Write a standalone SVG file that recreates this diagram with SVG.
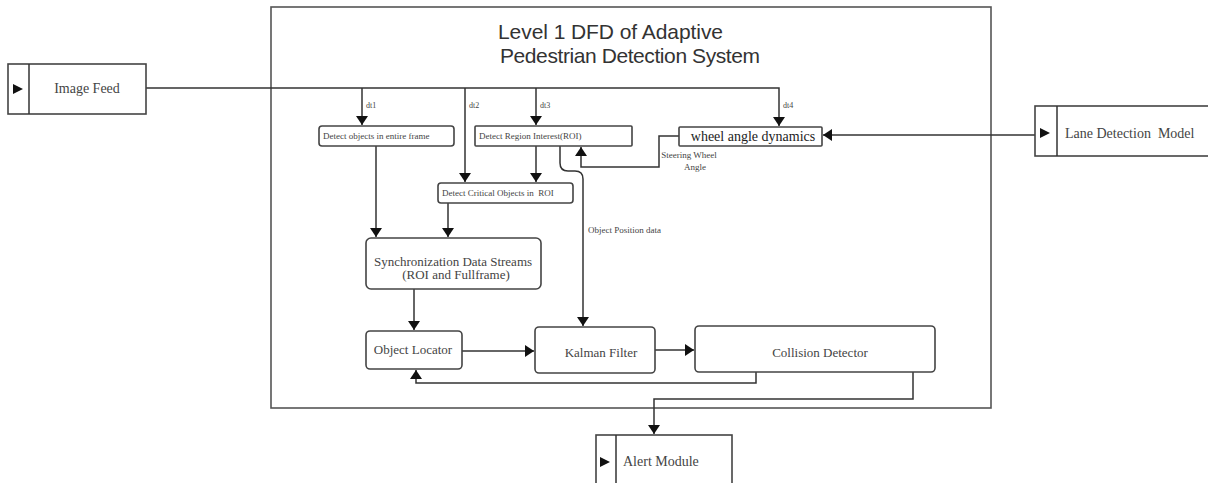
<svg xmlns="http://www.w3.org/2000/svg" width="1208" height="483" viewBox="0 0 1208 483">
<defs>
<marker id="arr" markerUnits="userSpaceOnUse" markerWidth="10" markerHeight="12" refX="9" refY="6" orient="auto">
<path d="M0,0 L9,6 L0,12 z" fill="#111"/>
</marker>
<style>
.box{fill:#fff;stroke:#444;stroke-width:1.6}
.sys{fill:none;stroke:#555;stroke-width:1.6}
.ln{fill:none;stroke:#333;stroke-width:1.5}
.ser{font-family:"Liberation Serif","Times New Roman",serif;fill:#444;white-space:pre}
.s9{font-size:9px}
.s8{font-size:8px}
.s13{font-size:13px}
.s14{font-size:14px}
.ttl{font-family:"Liberation Sans",Arial,sans-serif;font-size:21px;fill:#333}
.tri{fill:#111}
</style>
</defs>
<rect width="1208" height="483" fill="#fff"/>

<g id="system-boundary">
<rect class="sys" x="271" y="7" width="720" height="401"/>
<text class="ttl" x="498" y="39" textLength="225">Level 1 DFD of Adaptive</text>
<text class="ttl" x="500" y="63" textLength="260">Pedestrian Detection System</text>
</g>

<g id="connectors">
<path class="ln" d="M146,88 H779 V126" marker-end="url(#arr)"/>
<path class="ln" d="M362,88 V125" marker-end="url(#arr)"/>
<path class="ln" d="M465,88 V182" marker-end="url(#arr)"/>
<path class="ln" d="M536,88 V125" marker-end="url(#arr)"/>
<path class="ln" d="M536,146 V182" marker-end="url(#arr)"/>
<path class="ln" d="M376,146 V237" marker-end="url(#arr)"/>
<path class="ln" d="M448,203 V237" marker-end="url(#arr)"/>
<path class="ln" d="M414,289 V330" marker-end="url(#arr)"/>
<path class="ln" d="M462,351 H534" marker-end="url(#arr)"/>
<path class="ln" d="M655,350 H694" marker-end="url(#arr)"/>
<path class="ln" d="M756,372 V383 H416 V370" marker-end="url(#arr)"/>
<path class="ln" d="M913,372 V399 H654 V434" marker-end="url(#arr)"/>
<path class="ln" d="M1035,135 H823" marker-end="url(#arr)"/>
<path class="ln" d="M679,136 H659 V167 H581 V147" marker-end="url(#arr)"/>
<path class="ln" d="M560,146 V163 Q560,171 568,171 H575 Q583,171 583,179 V326" marker-end="url(#arr)"/>
<text class="ser s8" x="366" y="108">dt1</text>
<text class="ser s8" x="469" y="108">dt2</text>
<text class="ser s8" x="540" y="108">dt3</text>
<text class="ser s8" x="783" y="108">dt4</text>
<text class="ser s9" x="588" y="233">Object Position data</text>
<text class="ser s9" x="689" y="158" text-anchor="middle">Steering Wheel</text>
<text class="ser s9" x="695" y="170" text-anchor="middle">Angle</text>
</g>

<g id="image-feed">
<rect class="box" x="8" y="64" width="138" height="50"/>
<line class="ln" x1="29" y1="64" x2="29" y2="114"/>
<path class="tri" d="M13,84 L23,89 L13,94 z"/>
<text class="ser s14" x="87" y="93" text-anchor="middle">Image Feed</text>
</g>

<g id="lane-detection-model">
<rect class="box" x="1035" y="106" width="180" height="50"/>
<line class="ln" x1="1057" y1="106" x2="1057" y2="156"/>
<path class="tri" d="M1040,128 L1050,133 L1040,138 z"/>
<text class="ser s14" x="1065" y="138">Lane Detection  Model</text>
</g>

<g id="alert-module">
<rect class="box" x="596" y="435" width="136" height="60"/>
<line class="ln" x1="616" y1="435" x2="616" y2="495"/>
<path class="tri" d="M600,457 L610,462 L600,467 z"/>
<text class="ser s14" x="623" y="466">Alert Module</text>
</g>

<g id="detect-objects-entire-frame">
<rect class="box" x="319" y="126" width="135" height="20" rx="3"/>
<text class="ser s9" x="323" y="139">Detect objects in entire frame</text>
</g>

<g id="detect-region-interest">
<rect class="box" x="475" y="126" width="157" height="20" rx="1"/>
<text class="ser s9" x="479" y="139">Detect Region Interest(ROI)</text>
</g>

<g id="wheel-angle-dynamics">
<rect class="box" x="679" y="127" width="143" height="19" rx="1"/>
<text class="ser s14" x="753" y="141" text-anchor="middle" style="fill:#222">wheel angle dynamics</text>
</g>

<g id="detect-critical-objects">
<rect class="box" x="438" y="183" width="135" height="20" rx="3"/>
<text class="ser s9" x="442" y="196">Detect Critical Objects in  ROI</text>
</g>

<g id="synchronization">
<rect class="box" x="366" y="238" width="175" height="51" rx="5"/>
<text class="ser s13" x="453" y="266" text-anchor="middle">Synchronization Data Streams</text>
<text class="ser s13" x="456" y="279" text-anchor="middle">(ROI and Fullframe)</text>
</g>

<g id="object-locator">
<rect class="box" x="366" y="331" width="96" height="38" rx="4"/>
<text class="ser s13" x="413" y="354" text-anchor="middle">Object Locator</text>
</g>

<g id="kalman-filter">
<rect class="box" x="535" y="327" width="120" height="46" rx="4"/>
<text class="ser s13" x="601" y="357" text-anchor="middle">Kalman Filter</text>
</g>

<g id="collision-detector">
<rect class="box" x="695" y="326" width="240" height="46" rx="4"/>
<text class="ser s13" x="820" y="357" text-anchor="middle">Collision Detector</text>
</g>
</svg>
